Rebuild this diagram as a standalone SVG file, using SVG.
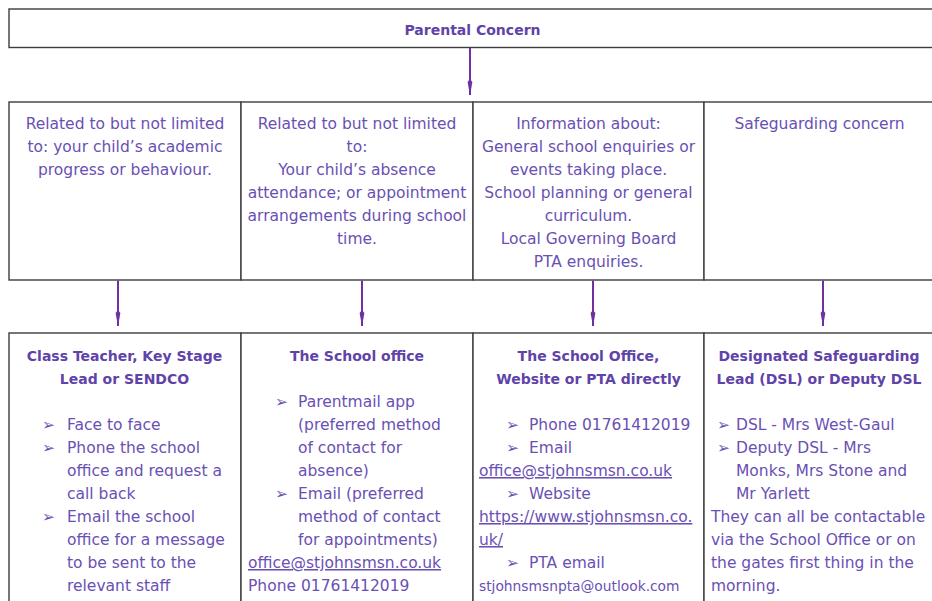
<svg xmlns="http://www.w3.org/2000/svg" width="932" height="601" viewBox="0 0 932 601">
<style>
.box{fill:#fff;stroke:#3d3d3d;stroke-width:1.4}
.t{font-family:"DejaVu Sans",sans-serif;font-size:15.5px;fill:#6a50b4}
.b{font-family:"DejaVu Sans",sans-serif;font-size:14px;font-weight:bold;fill:#5f43a8}
.c{text-anchor:middle}
.u{text-decoration:underline}
.m{font-family:"DejaVu Sans",sans-serif;font-size:13.8px;fill:#6a50b4}
.arr{stroke:#7030a0;stroke-width:2;fill:none;marker-end:url(#ah)}
</style>
<defs>
<marker id="ah" markerUnits="userSpaceOnUse" markerWidth="18" markerHeight="8" refX="16" refY="4" orient="auto">
<path d="M0,4 L3,1.6 L16,4 L3,6.4 z" fill="#7030a0"/>
</marker>
</defs>
<rect width="932" height="601" fill="#fff"/>

<g id="parental-concern">
<rect class="box" x="9" y="9" width="940" height="38.5"/>
<text class="b c" x="472.5" y="35">Parental Concern</text>
</g>

<g id="concern-academic">
<rect class="box" x="9" y="102" width="232" height="178"/>
<text class="t c" x="125" y="129">Related to but not limited</text>
<text class="t c" x="125" y="152">to: your child’s academic</text>
<text class="t c" x="125" y="175">progress or behaviour.</text>
</g>

<g id="concern-absence">
<rect class="box" x="241" y="102" width="232" height="178"/>
<text class="t c" x="357" y="129">Related to but not limited</text>
<text class="t c" x="357" y="152">to:</text>
<text class="t c" x="357" y="175">Your child’s absence</text>
<text class="t c" x="357" y="198">attendance; or appointment</text>
<text class="t c" x="357" y="221">arrangements during school</text>
<text class="t c" x="357" y="244">time.</text>
</g>

<g id="concern-general">
<rect class="box" x="473" y="102" width="231" height="178"/>
<text class="t c" x="588.5" y="129">Information about:</text>
<text class="t c" x="588.5" y="152">General school enquiries or</text>
<text class="t c" x="588.5" y="175">events taking place.</text>
<text class="t c" x="588.5" y="198">School planning or general</text>
<text class="t c" x="588.5" y="221">curriculum.</text>
<text class="t c" x="588.5" y="244">Local Governing Board</text>
<text class="t c" x="588.5" y="267">PTA enquiries.</text>
</g>

<g id="concern-safeguarding">
<rect class="box" x="704" y="102" width="245" height="178"/>
<text class="t c" x="819.5" y="129">Safeguarding concern</text>
</g>

<g id="contact-class-teacher">
<rect class="box" x="9" y="333" width="232" height="300"/>
<text class="b c" x="124.5" y="361">Class Teacher, Key Stage</text>
<text class="b c" x="124.5" y="384">Lead or SENDCO</text>
<text class="t" x="42" y="430">➢</text>
<text class="t" x="67" y="430">Face to face</text>
<text class="t" x="42" y="453">➢</text>
<text class="t" x="67" y="453">Phone the school</text>
<text class="t" x="67" y="476">office and request a</text>
<text class="t" x="67" y="499">call back</text>
<text class="t" x="42" y="522">➢</text>
<text class="t" x="67" y="522">Email the school</text>
<text class="t" x="67" y="545">office for a message</text>
<text class="t" x="67" y="568">to be sent to the</text>
<text class="t" x="67" y="591">relevant staff</text>
</g>

<g id="contact-school-office">
<rect class="box" x="241" y="333" width="232" height="300"/>
<text class="b c" x="357" y="361">The School office</text>
<text class="t" x="275" y="407">➢</text>
<text class="t" x="298" y="407">Parentmail app</text>
<text class="t" x="298" y="430">(preferred method</text>
<text class="t" x="298" y="453">of contact for</text>
<text class="t" x="298" y="476">absence)</text>
<text class="t" x="275" y="499">➢</text>
<text class="t" x="298" y="499">Email (preferred</text>
<text class="t" x="298" y="522">method of contact</text>
<text class="t" x="298" y="545">for appointments)</text>
<text class="t u" x="248" y="568">office@stjohnsmsn.co.uk</text>
<text class="t" x="248" y="591">Phone 01761412019</text>
</g>

<g id="contact-office-website-pta">
<rect class="box" x="473" y="333" width="231" height="300"/>
<text class="b c" x="588.5" y="361">The School Office,</text>
<text class="b c" x="588.5" y="384">Website or PTA directly</text>
<text class="t" x="506" y="430">➢</text>
<text class="t" x="529" y="430">Phone 01761412019</text>
<text class="t" x="506" y="453">➢</text>
<text class="t" x="529" y="453">Email</text>
<text class="t u" x="479" y="476">office@stjohnsmsn.co.uk</text>
<text class="t" x="506" y="499">➢</text>
<text class="t" x="529" y="499">Website</text>
<text class="t u" x="479" y="522">https://www.stjohnsmsn.co.</text>
<text class="t u" x="479" y="545">uk/</text>
<text class="t" x="506" y="568">➢</text>
<text class="t" x="529" y="568">PTA email</text>
<text class="m" x="479" y="591">stjohnsmsnpta@outlook.com</text>
</g>

<g id="contact-dsl">
<rect class="box" x="704" y="333" width="245" height="300"/>
<text class="b c" x="819" y="361">Designated Safeguarding</text>
<text class="b c" x="819" y="384">Lead (DSL) or Deputy DSL</text>
<text class="t" x="717" y="430">➢</text>
<text class="t" x="736" y="430">DSL - Mrs West-Gaul</text>
<text class="t" x="717" y="453">➢</text>
<text class="t" x="736" y="453">Deputy DSL - Mrs</text>
<text class="t" x="736" y="476">Monks, Mrs Stone and</text>
<text class="t" x="736" y="499">Mr Yarlett</text>
<text class="t" x="711" y="522">They can all be contactable</text>
<text class="t" x="711" y="545">via the School Office or on</text>
<text class="t" x="711" y="568">the gates first thing in the</text>
<text class="t" x="711" y="591">morning.</text>
</g>

<g id="connectors">
<line class="arr" x1="470" y1="48" x2="470" y2="95"/>
<line class="arr" x1="118" y1="280.5" x2="118" y2="326"/>
<line class="arr" x1="362" y1="280.5" x2="362" y2="326"/>
<line class="arr" x1="593" y1="280.5" x2="593" y2="326"/>
<line class="arr" x1="823" y1="280.5" x2="823" y2="326"/>
</g>
</svg>
